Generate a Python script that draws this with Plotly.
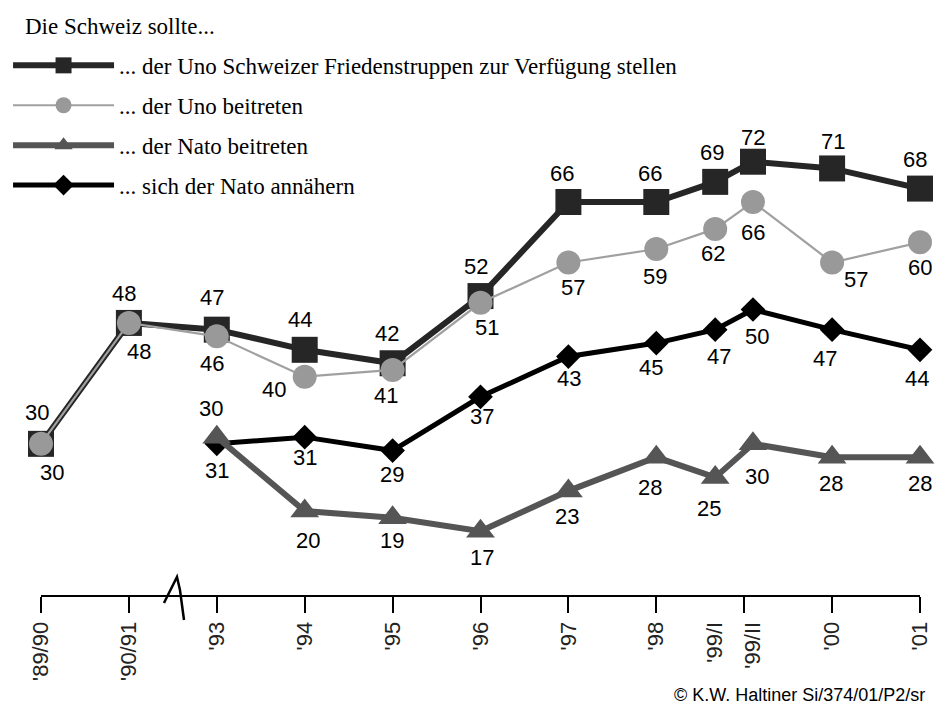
import plotly.graph_objects as go

# ---------------- data ----------------
PERIODS = ["'89/90", "'90/91", "'93", "'94", "'95", "'96", "'97", "'98", "'99/I", "'99/II", "'00", "'01"]
PERIOD_POS = [0, 1, 2, 3, 4, 5, 6, 7, 7.67, 8.1, 9, 10]
AXIS_TICKS = list(range(11))

friedenstruppen = [30, 48, 47, 44, 42, 52, 66, 66, 69, 72, 71, 68]
uno_beitritt = [30, 48, 46, 40, 41, 51, 57, 59, 62, 66, 57, 60]
nato_beitritt = [None, None, 31, 20, 19, 17, 23, 28, 25, 30, 28, 28]
nato_annaeherung = [None, None, 30, 31, 29, 37, 43, 45, 47, 50, 47, 44]

NAMES = [
    "... der Uno Schweizer Friedenstruppen zur Verfügung stellen",
    "... der Uno beitreten",
    "... der Nato beitreten",
    "... sich der Nato annähern",
]

# label offsets in px (dx, dy: positive dy = below the point)
OFF_FT = [(-4, -31), (-5, -29), (-5, -32), (-5, -30), (-6, -30), (-5, -30), (-6, -29), (-6, -29), (-3, -29), (0, -24), (1, -27), (-5, -29)]
OFF_UNO = [(11, 29), (10, 29), (-5, 27), (-31, 13), (-7, 26), (6, 25), (5, 25), (-1, 27), (-2, 25), (0, 30), (24, 17), (0, 25)]
OFF_NB = [None, None, (0, 33), (3, 29), (-1, 23), (1, 26), (-1, 26), (-6, 30), (-6, 31), (4, 33), (-1, 26), (0, 26)]
OFF_NA = [None, None, (-6, -35), (0, 20), (-1, 24), (1, 20), (1, 22), (-5, 24), (4, 27), (4, 27), (-7, 29), (-3, 29)]

SANS = "Liberation Sans, Arial, sans-serif"
SERIF = "Liberation Serif, Times New Roman, serif"

fig = go.Figure()

series = [
    # (values, name, line color, line width, marker symbol, marker size, marker color, rank)
    (friedenstruppen, NAMES[0], "#262626", 6, "square", 26, "#262626", 1),
    (nato_annaeherung, NAMES[3], "#000000", 5, "diamond", 19, "#000000", 4),
    (nato_beitritt, NAMES[2], "#555555", 6, "triangle-up", 25, "#555555", 3),
    (uno_beitritt, NAMES[1], "#a0a0a0", 2.2, "circle", 24, "#999999", 2),
]

for vals, name, lc, lw, sym, ms, mc, rank in series:
    xs = [p for p, v in zip(PERIOD_POS, vals) if v is not None]
    ys = [v for v in vals if v is not None]
    fig.add_trace(go.Scatter(
        x=xs, y=ys, name=name, mode="lines+markers",
        line=dict(color=lc, width=lw),
        marker=dict(symbol=sym, size=ms, color=mc, line=dict(width=0)),
        cliponaxis=False, legendrank=rank, legendgroup=name,
        hoverinfo="skip",
    ))

annotations = []
for vals, offs in [(friedenstruppen, OFF_FT), (uno_beitritt, OFF_UNO),
                   (nato_beitritt, OFF_NB), (nato_annaeherung, OFF_NA)]:
    for p, v, o in zip(PERIOD_POS, vals, offs):
        if v is None:
            continue
        annotations.append(dict(
            x=p, y=v, xref="x", yref="y", text=str(v), showarrow=False,
            xshift=o[0], yshift=-o[1],
            font=dict(family=SANS, size=22, color="#000000"),
        ))

annotations.append(dict(
    x=-0.0205, y=1.291, xref="paper", yref="paper", xanchor="left", yanchor="middle",
    text="Die Schweiz sollte...", showarrow=False,
    font=dict(family=SERIF, size=23, color="#000000"),
))
annotations.append(dict(
    x=1.008, y=-0.227, xref="paper", yref="paper", xanchor="right", yanchor="middle",
    text="© K.W. Haltiner Si/374/01/P2/sr", showarrow=False,
    font=dict(family=SANS, size=18, color="#000000"),
))

# axis break mark
shapes = [dict(
    type="path", xref="paper", yref="paper",
    path="M 0.1399 -0.0182 L 0.1547 0.0409 L 0.1581 0.0114 L 0.1627 -0.0568",
    line=dict(color="#000000", width=2.5),
)]

fig.update_layout(
    width=935, height=708,
    margin=dict(l=41, r=15, t=155, b=113, autoexpand=False),
    paper_bgcolor="white", plot_bgcolor="white",
    showlegend=True,
    legend=dict(
        xref="container", x=0.0086, y=1.2525, xanchor="left", yanchor="top",
        font=dict(family=SERIF, size=23, color="#000000"),
        itemwidth=101, tracegroupgap=7, traceorder="grouped",
        bgcolor="rgba(0,0,0,0)",
    ),
    xaxis=dict(
        range=[0, 10], showgrid=False, zeroline=False,
        showline=True, linecolor="#000000", linewidth=2,
        tickmode="array", tickvals=PERIOD_POS, ticktext=PERIODS,
        ticks="outside", ticklen=16, tickcolor="rgba(0,0,0,0)",
        tickangle=-90, ticklabeloverflow="allow",
        tickfont=dict(family=SANS, size=22, color="#222222"),
        minor=dict(tickmode="array", tickvals=AXIS_TICKS, ticks="outside",
                   ticklen=16, tickwidth=1.5, tickcolor="#000000", showgrid=False),
    ),
    yaxis=dict(range=[7.5, 73.0], visible=False, showgrid=False, zeroline=False),
    annotations=annotations,
    shapes=shapes,
)

fig.write_html(
    "out.html",
    config={"displayModeBar": False},
    post_script="document.body.style.margin='0px';document.body.style.overflow='hidden';",
)
